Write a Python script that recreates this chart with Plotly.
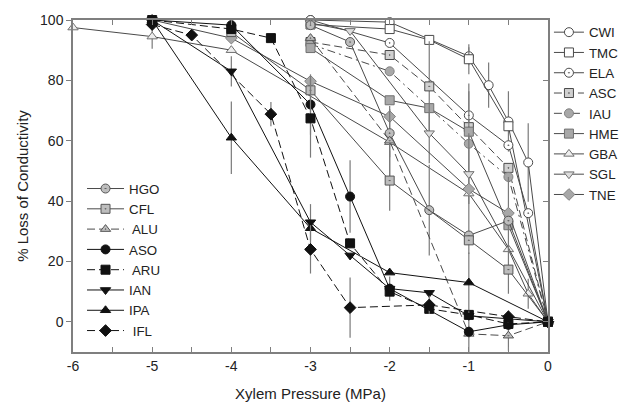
import plotly.graph_objects as go

# ---------------- data ----------------
# right-hand legend series
cwi_x = [-3, -2, -1, -0.75, -0.5, -0.25, 0]
cwi_y = [100, 99.3, 88, 78.4, 66.4, 52.8, 0]
cwi_e = [0, 0, 3, 7.5, 10, 13, 0]

tmc_x = [-3, -2, -1.5, -1, -0.5, 0]
tmc_y = [98.5, 97, 93.4, 87, 64.8, 0]
tmc_e = [0, 0, 0, 5, 0, 0]

ela_x = [-3, -2, -1, -0.5, -0.25, 0]
ela_y = [100, 92.4, 68.4, 58.5, 36, 0]
ela_e = [0, 0, 8, 0, 0, 0]

asc_x = [-3, -2, -1.5, -1, -0.5, 0]
asc_y = [92.7, 88.4, 78, 64.5, 51, 0]
asc_e = [0, 0, 15, 0, 0, 0]

iau_x = [-3, -2, -1, -0.5, 0]
iau_y = [92, 83, 59, 48, 0]
iau_e = [0, 0, 20, 0, 0]

hme_x = [-3, -2, -1.5, -1, -0.5, 0]
hme_y = [90.7, 73.4, 70.8, 63, 32, 0]
hme_e = [0, 0, 0, 0, 0, 0]

gba_x = [-6, -5, -4, -2, -1, -0.5, -0.25, 0]
gba_y = [97.5, 94.5, 90, 59.5, 42.5, 24, 9.3, 0]
gba_e = [0, 4, 0, 12, 20, 0, 5, 0]

sgl_x = [-3, -2.5, -1.5, -1, 0]
sgl_y = [99, 96.4, 62.5, 49, 0]
sgl_e = [0, 0, 10, 0, 0]

tne_x = [-5, -4, -3, -2, -1, -0.5, 0]
tne_y = [100, 94, 79.7, 68, 44, 36, 0]
tne_e = [0, 0, 0, 0, 0, 12, 0]

# left-hand legend series
hgo_x = [-3, -2.5, -2, -1.5, -1, -0.5, 0]
hgo_y = [98.3, 92.7, 62.5, 37, 28.6, 33.5, 0]
hgo_e = [0, 0, 8, 15, 0, 0, 0]

cfl_x = [-4, -3, -2, -1, -0.5, 0]
cfl_y = [96, 76.7, 46.8, 27, 17.3, 0]
cfl_e = [0, 0, 10, 0, 8, 0]

alu_x = [-3, -2, -1, -0.5, 0]
alu_y = [94, 60, -4, -4.6, 0]
alu_e = [0, 0, 8, 5, 0]

aso_x = [-5, -4, -3, -2.5, -2, -1, -0.5, 0]
aso_y = [100, 98.3, 72, 41.5, 11, -3.3, -1, 0]
aso_e = [0, 0, 10, 12, 4, 2, 0, 0]

aru_x = [-5, -4, -3.5, -3, -2.5, -2, -1.5, -1, -0.5, 0]
aru_y = [100, 97, 94, 67.4, 26, 10, 4.3, 2.3, -0.7, 0]
aru_e = [0, 0, 0, 13, 0, 0, 0, 0, 0, 0]

ian_x = [-5, -4, -3, -2.5, -2, -1.5, -1, 0]
ian_y = [100, 83, 33, 22, 11, 9.6, 2, 0]
ian_e = [0, 5, 6, 0, 0, 0, 0, 0]

ipa_x = [-5, -4, -3, -2, -1, 0]
ipa_y = [100, 61, 31, 16.3, 13, 0]
ipa_e = [0, 12, 0, 0, 10, 0]

ifl_x = [-5, -4.5, -3.5, -3, -2.5, -1.5, -0.5, 0]
ifl_y = [98.5, 95, 68.8, 24, 4.7, 5.6, 1.7, 0]
ifl_e = [0, 0, 4, 8, 10, 3, 2, 0]

x_tickvals = [-6, -5.5, -5, -4.5, -4, -3.5, -3, -2.5, -2, -1.5, -1, -0.5, 0]
x_ticktext = ["-6", "", "-5", "", "-4", "", "-3", "", "-2", "", "-1", "", "0"]
y_tickvals = [0, 20, 40, 60, 80, 100]

# ---------------- styling ----------------
FONT = "Liberation Sans, Arial, sans-serif"
GREY_LINE = "#4a4a4a"
BLACK = "#111111"
FILL_GREY = "#a8a8a8"
ERR = "#7a7a7a"
DASH = "8px,4px"
LEG_FONT = 13.3

fig = go.Figure()


def add(name, xs, ys, es, symbol, fill, edge, line_color, dash, legend):
    fig.add_trace(go.Scatter(
        x=xs, y=ys, name=name, mode="lines+markers",
        legend=legend, cliponaxis=False,
        line=dict(color=line_color, width=1, dash=dash),
        marker=dict(symbol=symbol, size=9, color=fill,
                    line=dict(color=edge, width=1)),
        error_y=dict(type="data", array=es, visible=True,
                     color=ERR, thickness=1.2, width=0),
    ))


# right legend (order as in legend)
add("CWI", cwi_x, cwi_y, cwi_e, "circle", "white", GREY_LINE, GREY_LINE, "solid", "legend2")
add("TMC", tmc_x, tmc_y, tmc_e, "square", "white", GREY_LINE, GREY_LINE, "solid", "legend2")
add("ELA", ela_x, ela_y, ela_e, "circle-dot", "white", GREY_LINE, GREY_LINE, "solid", "legend2")
add("ASC", asc_x, asc_y, asc_e, "square-dot", "#d0d0d0", GREY_LINE, GREY_LINE, DASH, "legend2")
add("IAU", iau_x, iau_y, iau_e, "circle", FILL_GREY, "#808080", GREY_LINE, "8px,4px,2px,4px", "legend2")
add("HME", hme_x, hme_y, hme_e, "square", FILL_GREY, "#707070", GREY_LINE, "solid", "legend2")
add("GBA", gba_x, gba_y, gba_e, "triangle-up", "#eeeeee", "#707070", GREY_LINE, "solid", "legend2")
add("SGL", sgl_x, sgl_y, sgl_e, "triangle-down", "#dddddd", "#707070", GREY_LINE, "solid", "legend2")
add("TNE", tne_x, tne_y, tne_e, "diamond", FILL_GREY, "#808080", GREY_LINE, "solid", "legend2")

# left legend
add("HGO", hgo_x, hgo_y, hgo_e, "circle-dot", "#bdbdbd", "#555555", GREY_LINE, "solid", "legend")
add("CFL", cfl_x, cfl_y, cfl_e, "square-dot", "#bdbdbd", "#555555", GREY_LINE, "solid", "legend")
add(" ALU", alu_x, alu_y, alu_e, "triangle-up-dot", "#bdbdbd", "#555555", GREY_LINE, DASH, "legend")
add("ASO", aso_x, aso_y, aso_e, "circle", BLACK, BLACK, BLACK, "solid", "legend")
add(" ARU", aru_x, aru_y, aru_e, "square", BLACK, BLACK, BLACK, DASH, "legend")
add("IAN", ian_x, ian_y, ian_e, "triangle-down", BLACK, BLACK, BLACK, "solid", "legend")
add("IPA", ipa_x, ipa_y, ipa_e, "triangle-up", BLACK, BLACK, BLACK, "solid", "legend")
add(" IFL", ifl_x, ifl_y, ifl_e, "diamond", BLACK, BLACK, BLACK, DASH, "legend")

# dummy trace to materialise the right-hand y axis (inward ticks)
fig.add_trace(go.Scatter(x=[None], y=[None], yaxis="y2", showlegend=False,
                         hoverinfo="skip", mode="markers"))

AX = "#7f7f7f"
fig.update_layout(
    width=630, height=408,
    # page body adds ~8px offset; margins compensate so the plot box lands where the reference has it
    margin=dict(l=65, r=90, t=12, b=64, autoexpand=False),
    paper_bgcolor="white", plot_bgcolor="white",
    font=dict(family=FONT, size=14, color="#222222"),
    showlegend=True,
    xaxis=dict(range=[-6, 0], tickvals=x_tickvals, ticktext=x_ticktext,
               ticks="inside", ticklen=5, tickcolor=AX, tickwidth=1,
               showline=True, linecolor=AX, linewidth=1.5, mirror="ticks",
               showgrid=False, zeroline=False,
               title=dict(text="Xylem Pressure (MPa)", font=dict(size=15), standoff=16),
               tickfont=dict(size=14)),
    yaxis=dict(range=[-10, 100], tickvals=y_tickvals,
               ticks="outside", ticklen=5, tickcolor=AX, tickwidth=1,
               showline=True, linecolor=AX, linewidth=1.5,
               showgrid=False, zeroline=False,
               title=dict(text="% Loss of Conductivity", font=dict(size=15), standoff=8),
               tickfont=dict(size=14)),
    yaxis2=dict(range=[-10, 100], tickvals=y_tickvals, overlaying="y", side="right",
                ticks="inside", ticklen=5, tickcolor=AX, tickwidth=1,
                showticklabels=False, showline=True, linecolor=AX, linewidth=1.5,
                showgrid=False, zeroline=False),
    legend=dict(x=0.019, y=0.538, xanchor="left", yanchor="top",
                bgcolor="rgba(0,0,0,0)", font=dict(size=LEG_FONT, family=FONT),
                itemwidth=37, tracegroupgap=0),
    legend2=dict(x=1.002, y=1.009, xanchor="left", yanchor="top",
                 bgcolor="rgba(0,0,0,0)", font=dict(size=LEG_FONT, family=FONT),
                 itemwidth=30, tracegroupgap=0),
)

fig.write_html("out.html")
